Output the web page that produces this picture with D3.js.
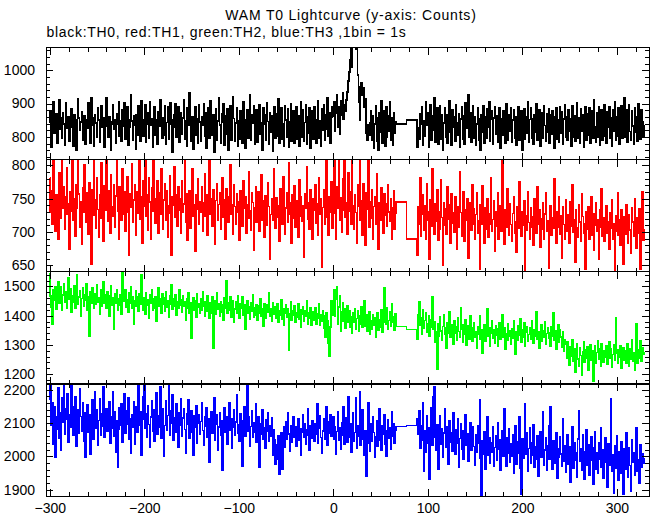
<!DOCTYPE html>
<html><head><meta charset="utf-8">
<script src="https://cdn.jsdelivr.net/npm/d3@7"></script>
<style>
body{margin:0;background:#fff}
svg{display:block}
text{font-family:"Liberation Sans",Arial,Helvetica,sans-serif}
</style>
</head><body>
<svg id="chart" width="652" height="515"></svg>
<script>
// ---------- DATA (1 bin = 1 s) ----------
// segment A: t = -300 .. 66 ; gap (flat) 67..77 and 78..88 ; segment B: t = 89 .. 329
const segAStart = -300;
const gapStarts = [67, 78];
const segBStart = 89;

const blackA = [
842,878,768,856,905,812,833,869,782,848,912,823,858,796,871,839,775,902,846,827,
861,787,844,884,829,772,866,851,760,838,913,857,820,845,874,789,836,862,778,850,
826,901,845,782,918,858,835,773,867,842,799,886,851,783,839,892,828,856,770,845,
917,833,798,861,845,761,839,896,824,852,782,868,839,905,801,847,786,880,833,901,
794,842,889,776,851,829,925,847,791,863,835,762,866,806,894,840,788,909,852,801,
845,897,783,839,872,797,904,836,855,769,847,891,804,850,778,876,833,911,842,795,
858,806,894,779,843,889,792,837,902,851,755,829,866,900,798,845,891,785,836,872,
809,857,912,794,848,773,886,835,931,842,787,859,764,838,891,806,853,780,895,844,
788,861,836,899,802,871,767,844,888,795,909,840,806,866,754,831,884,789,848,917,
835,782,870,843,898,776,862,809,884,761,846,893,791,838,919,855,787,842,886,771,
848,793,879,837,782,904,850,766,833,882,797,845,926,789,866,840,893,778,835,881,
784,860,896,808,843,761,886,839,865,790,901,846,777,872,814,862,758,841,890,795,
869,803,915,782,848,887,794,840,773,892,851,799,883,768,844,899,788,836,877,781,
846,890,792,864,771,838,905,799,881,787,843,896,778,860,812,887,765,841,878,794,
889,815,782,852,908,796,847,771,884,819,897,790,865,823,918,801,872,780,859,891,
862,904,816,871,925,828,890,807,909,866,932,852,895,876,910,935,968,995,1030,1075,
1010,1090,1070,1085,1062,1080,985,905,850,950,962,925,948,890,915,812,790,835,806,842,
878,791,863,765,839,894,786,858,759,872,813,909,780,855,877,771,890,798,862,816,
904,789,857,776,873,811,845];
const blackGap = [838, 850];
const blackB = [
770,826,792,868,839,891,775,847,803,904,836,871,768,844,897,789,862,820,916,785,
858,886,777,839,893,794,865,761,842,888,799,867,782,856,909,813,774,882,828,860,
787,895,841,806,869,768,854,890,792,863,779,901,826,857,926,800,872,785,843,892,
796,861,774,838,887,790,855,760,866,813,894,781,859,797,883,829,905,788,852,879,
777,856,891,809,862,785,838,886,767,853,805,878,824,782,898,847,791,865,816,888,
783,850,882,797,859,774,845,891,789,856,878,760,847,884,793,861,810,906,785,852,
888,796,855,779,866,813,899,791,852,880,771,839,873,795,892,834,787,869,815,883,
782,866,807,878,828,765,861,886,794,850,783,889,812,875,777,853,896,798,860,789,
881,816,855,772,893,799,862,786,840,903,795,857,780,884,818,866,768,842,891,791,
869,804,887,782,855,878,796,912,829,785,873,800,890,776,854,882,791,858,897,803,
782,876,830,889,795,857,773,881,816,904,789,860,801,886,778,855,892,796,863,917,
799,881,784,858,895,816,790,877,832,779,888,813,861,786,898,829,794,882,845,798,
836];

const redA = [
781,730,762,712,808,744,701,756,727,690,789,748,721,815,735,768,705,752,796,726,
742,675,760,731,812,718,749,694,771,736,810,757,708,745,682,766,729,801,743,715,
758,697,774,739,652,763,725,812,748,706,781,734,692,755,720,803,741,687,769,732,
811,746,716,762,698,785,738,723,770,707,754,812,731,690,767,743,718,795,726,760,
702,750,783,729,666,757,737,802,714,748,771,695,743,760,728,806,719,752,684,777,
739,810,724,756,703,781,745,690,766,731,812,750,713,742,776,698,759,727,794,736,
705,748,772,717,761,692,739,784,728,666,753,740,797,722,756,709,768,733,750,698,
776,729,742,814,715,757,688,738,762,706,749,795,724,741,671,756,734,779,712,745,
730,768,701,744,787,723,756,695,739,810,727,750,709,763,736,682,747,772,718,741,
759,704,734,781,722,748,690,765,733,714,752,800,726,741,697,770,738,711,757,729,
745,688,762,727,709,776,735,752,698,741,720,790,732,703,758,744,673,736,767,715,
739,760,702,728,785,717,746,692,754,731,710,773,738,659,726,750,718,795,733,706,
751,722,740,687,764,730,712,782,745,697,736,758,714,804,727,743,684,755,721,769,
708,746,731,693,778,724,752,716,739,662,757,735,798,719,744,705,763,728,689,750,
732,770,713,742,695,781,726,749,648,737,763,711,740,808,722,695,752,730,775,706,
742,812,728,690,767,735,812,718,751,700,779,733,812,722,744,697,789,731,760,712,
812,740,705,756,729,683,770,738,812,718,746,695,772,727,680,759,734,812,708,745,
721,763,690,738,752,711,787,729,674,744,718,766,735,698,757,725,742,709,771,730,
716,749,690,737,762,705,728];
const redGap = [745, 690];
const redB = [
665,738,712,781,694,726,755,703,740,689,772,718,731,660,748,709,794,725,697,742,
716,763,688,731,705,778,722,651,744,710,735,697,768,719,741,684,757,713,729,700,
752,721,675,738,707,790,729,694,715,760,686,733,718,749,661,727,744,703,771,712,
735,690,726,758,699,717,645,741,711,769,722,684,737,705,750,693,728,712,781,702,
719,746,672,731,709,758,690,724,739,701,812,715,682,733,707,764,720,695,742,711,
687,728,752,699,716,670,738,706,775,721,694,730,710,746,641,725,703,760,714,689,
736,708,723,681,749,716,698,768,712,734,677,720,705,744,690,727,758,701,717,646,
713,740,695,722,706,779,719,684,731,708,752,697,724,661,738,711,690,748,716,702,
726,683,745,709,771,700,718,655,734,707,692,741,715,686,757,723,698,712,645,730,
704,738,689,715,752,696,727,673,710,744,701,719,660,733,708,765,694,721,687,712,
740,698,716,675,729,706,748,690,713,643,725,702,759,695,718,681,734,709,652,723,
697,741,711,684,726,703,668,737,715,694,750,706,676,722,699,735,645,712,760,688,
705];

const greenA = [
1545,1468,1430,1372,1489,1452,1500,1421,1476,1515,1443,1462,1498,1418,1470,1508,1445,1482,1427,1460,
1531,1456,1491,1412,1468,1447,1503,1426,1478,1540,1439,1464,1485,1397,1458,1494,1433,1471,1452,1510,
1418,1466,1329,1480,1442,1496,1451,1425,1474,1438,1505,1447,1462,1405,1488,1432,1459,1517,1441,1470,
1427,1483,1456,1398,1467,1502,1436,1461,1352,1475,1444,1490,1419,1458,1437,1472,1405,1548,1449,1463,
1488,1430,1455,1411,1479,1443,1499,1425,1466,1372,1450,1486,1431,1463,1416,1475,1440,1541,1447,1420,
1462,1405,1478,1436,1454,1393,1471,1442,1487,1418,1459,1426,1466,1381,1449,1495,1432,1457,1410,1474,
1438,1461,1415,1483,1429,1452,1396,1467,1440,1505,1421,1458,1434,1470,1402,1447,1426,1490,1437,1455,
1412,1469,1431,1448,1385,1459,1424,1477,1409,1445,1322,1435,1462,1418,1451,1395,1474,1429,1441,1407,
1456,1420,1483,1433,1399,1448,1416,1468,1427,1392,1445,1410,1463,1289,1431,1452,1404,1478,1422,1440,
1398,1449,1413,1437,1386,1460,1425,1519,1407,1443,1419,1465,1394,1431,1450,1377,1422,1447,1410,1468,
1416,1392,1441,1424,1463,1401,1436,1355,1419,1452,1408,1430,1387,1445,1414,1471,1396,1427,1403,1438,
1385,1433,1409,1457,1399,1422,1364,1441,1415,1390,1436,1411,1478,1397,1424,1380,1445,1405,1419,1431,
1393,1440,1378,1416,1402,1453,1389,1425,1366,1410,1437,1396,1422,1282,1408,1449,1383,1418,1401,1434,
1376,1411,1395,1442,1387,1420,1359,1404,1430,1381,1415,1398,1451,1370,1409,1392,1426,1367,1401,1413,
1385,1428,1372,1406,1391,1439,1368,1403,1380,1415,1356,1398,1327,1410,1384,1305,1260,1362,1452,1400,
1436,1487,1398,1455,1497,1372,1430,1469,1348,1412,1443,1380,1425,1357,1404,1432,1376,1418,1361,1395,
1340,1409,1378,1422,1353,1390,1415,1347,1398,1371,1430,1359,1386,1451,1365,1402,1348,1379,1412,1337,
1382,1355,1403,1367,1391,1326,1374,1410,1350,1387,1362,1421,1345,1376,1495,1398,1370,1428,1355,1383,
1412,1364,1440,1376,1395,1350,1408];
const greenGap = [1363, 1353];
const greenB = [
1318,1402,1449,1367,1391,1338,1420,1356,1383,1410,1344,1372,1398,1329,1361,1387,1466,1352,1379,1310,
1345,1217,1372,1330,1395,1348,1316,1363,1404,1337,1358,1289,1376,1341,1412,1325,1350,1368,1302,1384,
1339,1361,1317,1392,1346,1328,1427,1354,1308,1370,1335,1386,1299,1348,1366,1321,1401,1340,1313,1357,
1375,1326,1344,1288,1362,1336,1398,1319,1353,1272,1340,1369,1311,1347,1425,1330,1358,1297,1341,1382,
1322,1351,1306,1367,1334,1294,1355,1377,1318,1343,1403,1327,1360,1285,1338,1315,1372,1331,1349,1301,
1356,1324,1381,1339,1268,1346,1317,1364,1333,1390,1309,1350,1328,1375,1297,1342,1361,1314,1336,1358,
1320,1383,1341,1305,1352,1329,1414,1318,1345,1290,1336,1368,1312,1348,1325,1379,1301,1339,1357,1323,
1343,1296,1362,1330,1410,1315,1347,1284,1333,1370,1308,1351,1326,1292,1344,1280,1318,1303,1255,1310,
1272,1230,1295,1261,1318,1244,1285,1207,1270,1303,1251,1226,1289,1264,1198,1276,1310,1240,1283,1255,
1292,1215,1268,1301,1247,1281,1177,1262,1296,1238,1274,1313,1250,1286,1228,1305,1266,1242,1280,1259,
1298,1233,1275,1312,1253,1288,1224,1267,1301,1246,1392,1271,1239,1284,1257,1297,1220,1264,1290,1248,
1279,1236,1303,1261,1228,1286,1252,1318,1243,1274,1215,1269,1372,1237,1282,1256,1313,1245,1291,1268,
1276];

const blueA = [
2170,2215,2092,2160,2035,2148,1998,2120,2082,2205,2054,2131,2018,2176,2103,2222,2067,2143,2110,2188,
2041,2126,2087,2219,2150,2062,2113,2178,2029,2096,2140,2068,2203,2119,2075,2161,2046,2130,1998,2102,
2155,2071,2124,2007,2098,2169,2050,2117,2193,2083,2139,2034,2108,2172,2064,2127,2089,2210,2056,2115,
2142,2076,2101,2164,2038,2120,2085,2195,2061,2133,2011,2107,1968,2081,2146,2094,2157,2043,2118,2188,
2069,2136,2097,2175,2052,2114,2010,2125,2088,2163,2037,2104,2149,2073,2218,2092,2135,2002,2111,2180,
2221,2084,2129,2058,2153,2096,2027,2118,2166,2075,2139,2045,2102,2190,2066,2123,2087,2208,2053,2110,
2144,2001,2093,2168,2079,2122,2214,2063,2137,2098,2185,2049,2116,2071,2157,2088,2026,2131,2094,2172,
2059,2115,2143,2081,2008,2128,2095,2170,2054,2109,2138,2072,2003,2121,2086,2152,2040,2099,2126,2066,
2105,2161,2077,2033,2119,2090,2147,2058,2112,1982,2083,2134,2069,2100,2176,2047,2096,2124,2019,2088,
2131,2064,2107,1958,2091,2145,2073,2118,2036,2099,2160,2078,2113,2024,2087,2139,2062,2103,2185,2070,
2096,2044,2127,2079,1971,2108,2150,2061,2092,2214,2075,2118,2030,2089,2136,2057,2101,2072,2159,2043,
2084,2120,1968,2066,2098,2141,2052,2087,2023,2109,2074,2132,2046,2093,2060,2117,2003,2081,2049,1976,
2035,1991,2062,1947,2018,2070,1960,2044,2088,2026,2105,2052,2131,2067,2014,2093,2041,2078,2120,2056,
2089,2031,2067,2112,2048,2083,2004,2071,2125,2058,2097,2036,2080,2143,2062,2019,2091,2053,2108,2074,
2045,2099,2066,2157,2038,2085,2121,2057,2009,2076,2114,2050,2095,2150,2032,2103,2069,2126,2061,2087,
2118,2052,2090,2005,2074,2133,2047,2086,2021,2102,2063,2148,2035,2079,2116,2041,2180,2058,2097,2012,
2083,2130,2046,2071,2175,2025,2092,2060,2194,2034,2088,2139,2051,2003,2076,1940,2039,2161,2068,2015,
2099,2044,2120,2072,1996,2058,2107,2030,2085,2143,2049,2018,2093,2066,2125,2037,2001,2078,2110,2054,
2086,2022,2135,2061,2097,2040,2079];
const blueGap = [2090, 2092];
const blueB = [
2112,2065,2138,2024,2093,2047,2160,1955,2078,2011,2122,2040,2086,1930,2069,2147,2032,2180,2210,2056,
2018,2095,1962,2061,2123,2037,2084,1998,2070,2142,2026,2089,2051,1976,2107,2043,2072,2015,2131,2058,
2006,2081,2039,2114,1967,2054,2098,2022,2077,1991,2045,2126,2033,2068,1985,2059,2102,2017,2050,2088,
2029,1972,2064,2011,2093,2038,2170,1995,1881,2046,2007,2075,1960,2032,2119,2003,2056,1978,2041,2013,
2089,1969,2027,2063,1988,2101,2020,2049,1957,2035,2076,1999,2143,2016,1970,2055,2008,2083,1982,2037,
2001,2066,1948,2025,2091,1975,2044,2010,2120,1963,1885,2052,1994,2034,2158,2006,2071,1955,2023,2085,
1980,2042,2003,2095,1966,2028,1992,2061,1940,2012,2074,1997,2039,2135,1973,2019,2057,1958,2031,2093,
1991,2148,2008,1962,2046,2015,1979,2071,1935,2024,1998,2059,2007,1969,2112,1986,2033,1953,2017,2064,
1976,2029,1921,2002,2088,1965,2040,1989,2011,1938,2052,2137,1984,2023,1957,2066,1996,1930,2014,2081,
1972,2035,1943,2006,2058,1987,1915,2026,2073,1961,2010,1950,2042,1992,2087,1968,2019,1934,2001,2055,
1981,1908,2037,1974,2016,2172,1955,2004,1890,2031,1963,2062,1985,1927,2013,1948,2045,1993,1886,2024,
1960,2070,1997,1937,2027,1972,1895,2049,1983,2012,1944,2001,2085,1956,1990,1918,2034,1966,2008,1978,
1995];

// axes / labels
const titleText = "WAM T0 Lightcurve (y-axis: Counts)";
const subtitleText = "black:TH0, red:TH1, green:TH2, blue:TH3 ,1bin = 1s";
const xDomain = [-304, 334];
const xMajorTicks = [-300, -200, -100, 0, 100, 200, 300];
const yDomains = [[732, 1068], [641, 808.5], [1168, 1551], [1881, 2217]];
const yMajorTicks = [[800, 900, 1000], [650, 700, 750, 800], [1200, 1300, 1400, 1500], [1900, 2000, 2100, 2200]];
const yMinorSteps = [20, 10, 20, 20];
const colors = ["#000000", "#ff0000", "#00ff00", "#0000ff"];

// ---------- DRAW ----------
const svg = d3.select("#chart");
const left = 46, right = 649;
const panelTops = [47.5, 159.5, 271.5, 384];
const panelH = 112;

const x = d3.scaleLinear().domain(xDomain).range([left, right]);
const xMinor = d3.range(-300, 334, 20).filter(v => v % 100 !== 0);

function build(A, gap, B) {
  const pts = [];
  A.forEach((v, i) => pts.push([segAStart + i, v]));
  for (let t = gapStarts[0]; t < gapStarts[1]; t++) pts.push([t, gap[0]]);
  for (let t = gapStarts[1]; t < segBStart; t++) pts.push([t, gap[1]]);
  B.forEach((v, i) => pts.push([segBStart + i, v]));
  return pts;
}
const series = [
  build(blackA, blackGap, blackB),
  build(redA, redGap, redB),
  build(greenA, greenGap, greenB),
  build(blueA, blueGap, blueB)
];

svg.append("text").attr("x", 351).attr("y", 20).attr("text-anchor", "middle")
  .attr("font-size", 14).attr("letter-spacing", "0.8px").text(titleText);
svg.append("text").attr("x", 46.5).attr("y", 37).attr("text-anchor", "start")
  .attr("font-size", 14).attr("letter-spacing", "0.7px").text(subtitleText);

const defs = svg.append("defs");

series.forEach((pts, k) => {
  const top = panelTops[k], bot = top + panelH;
  const y = d3.scaleLinear().domain(yDomains[k]).range([bot, top]);
  const g = svg.append("g");

  defs.append("clipPath").attr("id", "clip" + k)
    .append("rect").attr("x", left).attr("y", top).attr("width", right - left).attr("height", panelH);

  const line = d3.line().x(d => x(d[0])).y(d => y(d[1])).curve(d3.curveStep);
  g.append("path").datum(pts)
    .attr("clip-path", "url(#clip" + k + ")")
    .attr("fill", "none").attr("stroke", colors[k]).attr("stroke-width", 1.6)
    .attr("shape-rendering", "crispEdges")
    .attr("d", line);

  // frame
  g.append("rect").attr("x", left).attr("y", top).attr("width", right - left).attr("height", panelH)
    .attr("fill", "none").attr("stroke", "#000").attr("stroke-width", 1).attr("shape-rendering", "crispEdges");

  const [y0, y1] = yDomains[k];
  const st = yMinorSteps[k];
  const yMinor = d3.range(Math.ceil(y0 / st) * st, y1, st).filter(v => !yMajorTicks[k].includes(v));

  const styleAxis = sel => {
    sel.select(".domain").remove();
    sel.selectAll("line").attr("stroke", "#000").attr("shape-rendering", "crispEdges");
    sel.selectAll("text").attr("font-size", 14).attr("font-family", '"Liberation Sans",Arial,sans-serif').attr("fill", "#000");
  };

  g.append("g").attr("transform", `translate(0,${bot})`)
    .call(d3.axisBottom(x).tickValues(xMajorTicks).tickSize(-7).tickPadding(7)
      .tickFormat(k === 3 ? d3.format("") : () => ""))
    .call(styleAxis);
  g.append("g").attr("transform", `translate(0,${bot})`)
    .call(d3.axisBottom(x).tickValues(xMinor).tickSize(-4).tickFormat(() => ""))
    .call(styleAxis);
  g.append("g").attr("transform", `translate(0,${top})`)
    .call(d3.axisTop(x).tickValues(xMajorTicks).tickSize(-7).tickFormat(() => ""))
    .call(styleAxis);
  g.append("g").attr("transform", `translate(0,${top})`)
    .call(d3.axisTop(x).tickValues(xMinor).tickSize(-4).tickFormat(() => ""))
    .call(styleAxis);
  g.append("g").attr("transform", `translate(${left},0)`)
    .call(d3.axisLeft(y).tickValues(yMajorTicks[k]).tickSize(-7).tickPadding(11).tickFormat(d3.format("")))
    .call(styleAxis);
  g.append("g").attr("transform", `translate(${left},0)`)
    .call(d3.axisLeft(y).tickValues(yMinor).tickSize(-4).tickFormat(() => ""))
    .call(styleAxis);
  g.append("g").attr("transform", `translate(${right},0)`)
    .call(d3.axisRight(y).tickValues(yMajorTicks[k]).tickSize(-7).tickFormat(() => ""))
    .call(styleAxis);
  g.append("g").attr("transform", `translate(${right},0)`)
    .call(d3.axisRight(y).tickValues(yMinor).tickSize(-4).tickFormat(() => ""))
    .call(styleAxis);
});
</script>
</body></html>
